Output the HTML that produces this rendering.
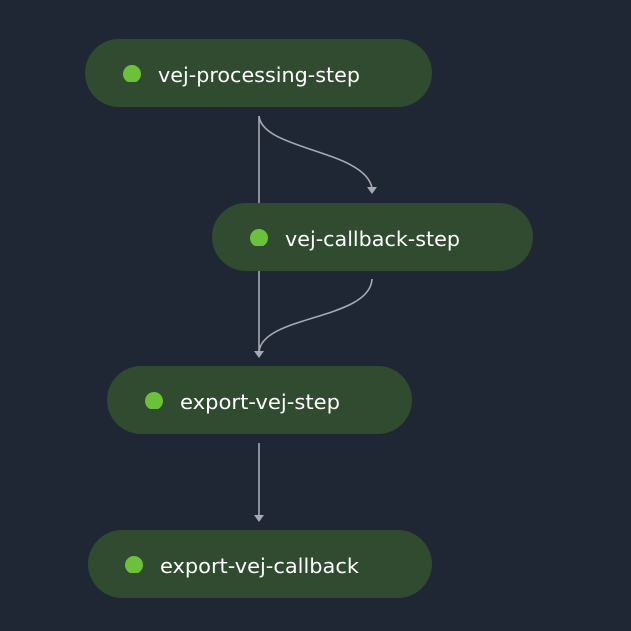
<!DOCTYPE html>
<html><head><style>
html,body{margin:0;padding:0;background:#1f2734;}
svg{display:block}
text{font-family:"DejaVu Sans","Liberation Sans",sans-serif;font-size:20px;fill:#ffffff}
</style></head><body>
<svg width="631" height="631" viewBox="0 0 631 631">
<rect width="631" height="631" fill="#1f2734"/>
<defs>
<clipPath id="c"><rect x="-20" y="-20" width="40" height="28"/></clipPath>
</defs>
<g stroke="#a8a9b2" stroke-width="1.6" fill="none">
<path d="M259 116 V352"/>
<path d="M259 116 C262 150 365 150 372 188"/>
<path d="M372 279 C370 320 262 315 259 352"/>
<path d="M259 443 V516"/>
</g>
<g fill="#a8a9b2">
<path d="M254 351 L264 351 L259 358 Z"/>
<path d="M367 187 L377 187 L372 194 Z"/>
<path d="M254 515 L264 515 L259 522 Z"/>
</g>
<g fill="#304b2f">
<rect x="85" y="39" width="347" height="68" rx="34"/>
<rect x="212" y="203" width="321" height="68" rx="34"/>
<rect x="107" y="366" width="305" height="68" rx="34"/>
<rect x="88" y="530" width="344" height="68" rx="34"/>
</g>
<g fill="#6cc13b">
<g transform="translate(132,74)"><circle r="9" clip-path="url(#c)"/></g>
<g transform="translate(259,238)"><circle r="9" clip-path="url(#c)"/></g>
<g transform="translate(154,401)"><circle r="9" clip-path="url(#c)"/></g>
<g transform="translate(134,565)"><circle r="9" clip-path="url(#c)"/></g>
</g>
<text x="158" y="82" textLength="202" lengthAdjust="spacingAndGlyphs">vej-processing-step</text>
<text x="285" y="246" textLength="175" lengthAdjust="spacingAndGlyphs">vej-callback-step</text>
<text x="180" y="409" textLength="160" lengthAdjust="spacingAndGlyphs">export-vej-step</text>
<text x="160" y="573" textLength="199" lengthAdjust="spacingAndGlyphs">export-vej-callback</text>
</svg>
</body></html>
